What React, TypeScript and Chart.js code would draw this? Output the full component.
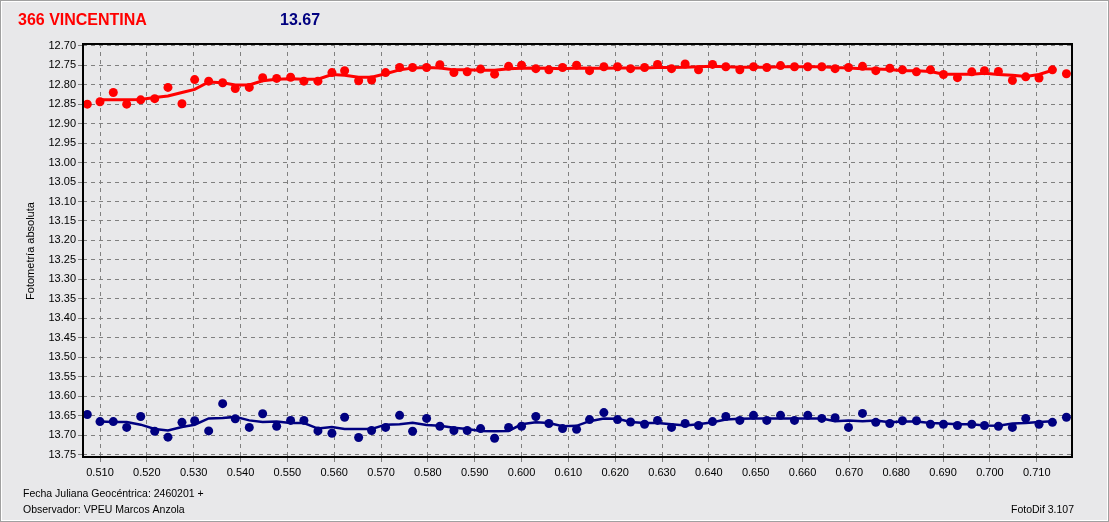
import React, { useEffect, useRef } from 'react';
import { Chart, registerables } from 'chart.js';

Chart.register(...registerables);

const titleName = '366 VINCENTINA';
const titleMag = '13.67';
const yAxisTitle = 'Fotometría absoluta';
const footerDate = 'Fecha Juliana Geocéntrica: 2460201 +';
const footerObserver = 'Observador: VPEU Marcos Anzola';
const footerSoftware = 'FotoDif 3.107';

const xTicks = [0.51, 0.52, 0.53, 0.54, 0.55, 0.56, 0.57, 0.58, 0.59, 0.6, 0.61, 0.62, 0.63, 0.64, 0.65, 0.66, 0.67, 0.68, 0.69, 0.7, 0.71];
const yTicks = [12.7, 12.75, 12.8, 12.85, 12.9, 12.95, 13.0, 13.05, 13.1, 13.15, 13.2, 13.25, 13.3, 13.35, 13.4, 13.45, 13.5, 13.55, 13.6, 13.65, 13.7, 13.75];

const jdFraction = [
  0.50729, 0.51, 0.51284, 0.5157, 0.51869, 0.52168, 0.52451, 0.5275, 0.53021, 0.5332,
  0.53619, 0.53888, 0.54187, 0.54473, 0.54772, 0.5507, 0.55354, 0.55653, 0.55952, 0.56223,
  0.56522, 0.56799, 0.57098, 0.57397, 0.57674, 0.57973, 0.58257, 0.58556, 0.5884, 0.59126,
  0.59425, 0.59724, 0.60001, 0.60306, 0.60584, 0.60876, 0.61175, 0.61452, 0.61758, 0.6205,
  0.62328, 0.62627, 0.62904, 0.63203, 0.63493, 0.63779, 0.64078, 0.64362, 0.64661, 0.64953,
  0.65237, 0.6553, 0.65828, 0.66112, 0.66411, 0.66695, 0.66981, 0.6728, 0.67564, 0.67863,
  0.68133, 0.68432, 0.68731, 0.69009, 0.69307, 0.69613, 0.69884, 0.70182, 0.70481, 0.70765,
  0.71049, 0.71335, 0.71634,
];

const redMag = [
  12.85, 12.844, 12.82, 12.85, 12.839, 12.836, 12.807, 12.849, 12.787, 12.791,
  12.795, 12.81, 12.807, 12.782, 12.784, 12.781, 12.791, 12.791, 12.769, 12.764,
  12.79, 12.788, 12.769, 12.756, 12.756, 12.756, 12.749, 12.769, 12.767, 12.76,
  12.773, 12.753, 12.75, 12.759, 12.762, 12.756, 12.75, 12.764, 12.754, 12.754,
  12.759, 12.756, 12.748, 12.759, 12.747, 12.762, 12.748, 12.754, 12.762, 12.754,
  12.756, 12.751, 12.754, 12.754, 12.754, 12.759, 12.756, 12.753, 12.764, 12.758,
  12.762, 12.767, 12.762, 12.774, 12.782, 12.767, 12.764, 12.766, 12.789, 12.78,
  12.783, 12.762, 12.772,
];

// smoothed curve, from 2nd to 72nd point
const redTrend = [
  12.839, 12.839, 12.839, 12.838, 12.833, 12.829, 12.82, 12.812, 12.793,
  12.795, 12.801, 12.801, 12.79, 12.786, 12.785, 12.786, 12.786, 12.774, 12.776,
  12.781, 12.781, 12.772, 12.762, 12.757, 12.756, 12.757, 12.762, 12.762, 12.763,
  12.763, 12.759, 12.758, 12.757, 12.758, 12.759, 12.757, 12.758, 12.758, 12.757,
  12.757, 12.757, 12.756, 12.756, 12.755, 12.754, 12.753, 12.754, 12.755, 12.755,
  12.755, 12.754, 12.754, 12.754, 12.754, 12.756, 12.757, 12.759, 12.76, 12.761,
  12.764, 12.764, 12.766, 12.773, 12.773, 12.773, 12.771, 12.774, 12.776, 12.779,
  12.774, 12.763,
];

const blueMag = [
  13.647, 13.665, 13.665, 13.68, 13.652, 13.69, 13.705, 13.667, 13.663, 13.689,
  13.619, 13.658, 13.68, 13.645, 13.677, 13.662, 13.662, 13.689, 13.695, 13.654,
  13.706, 13.688, 13.68, 13.649, 13.69, 13.657, 13.677, 13.688, 13.688, 13.683,
  13.708, 13.68, 13.677, 13.652, 13.67, 13.683, 13.685, 13.66, 13.642, 13.66,
  13.666, 13.672, 13.662, 13.68, 13.67, 13.675, 13.665, 13.652, 13.662, 13.649,
  13.662, 13.649, 13.662, 13.649, 13.657, 13.655, 13.68, 13.644, 13.667, 13.67,
  13.663, 13.663, 13.672, 13.672, 13.675, 13.672, 13.675, 13.677, 13.68, 13.657,
  13.672, 13.667, 13.654,
];

const blueTrend = [
  13.665, 13.666, 13.666, 13.673, 13.684, 13.688, 13.679, 13.673, 13.657,
  13.656, 13.653, 13.662, 13.666, 13.665, 13.669, 13.669, 13.683, 13.679, 13.684,
  13.684, 13.684, 13.673, 13.672, 13.668, 13.674, 13.676, 13.681, 13.684, 13.689,
  13.69, 13.689, 13.672, 13.667, 13.669, 13.677, 13.676, 13.664, 13.657, 13.658,
  13.666, 13.669, 13.669, 13.672, 13.675, 13.672, 13.667, 13.66, 13.658, 13.657,
  13.657, 13.657, 13.657, 13.657, 13.657, 13.664, 13.662, 13.664, 13.662, 13.667,
  13.665, 13.665, 13.669, 13.67, 13.672, 13.672, 13.675, 13.676, 13.67, 13.669,
  13.666, 13.664,
];

const RED = '#ff0000';
const BLUE = '#000080';
const BG = '#e8e8ea';
const FONT = '"Liberation Sans", Arial, sans-serif';

const toPoints = (ys: number[], offset: number) =>
  ys.map((y, i) => ({ x: jdFraction[i + offset], y }));

const decorPlugin = {
  id: 'decor',
  beforeDraw(chart: any) {
    const { ctx, width, height } = chart;
    ctx.save();
    ctx.fillStyle = BG;
    ctx.fillRect(0, 0, width, height);
    ctx.strokeStyle = '#a0a0a0';
    ctx.lineWidth = 1;
    ctx.strokeRect(0.5, 0.5, width - 1, height - 1);
    ctx.strokeStyle = '#ffffff';
    ctx.strokeRect(1.5, 1.5, width - 3, height - 3);
    ctx.restore();
  },
  afterDraw(chart: any) {
    const { ctx, chartArea } = chart;
    ctx.save();
    // plot frame
    ctx.strokeStyle = '#000000';
    ctx.lineWidth = 2;
    ctx.strokeRect(chartArea.left, chartArea.top, chartArea.right - chartArea.left, chartArea.bottom - chartArea.top);

    ctx.textBaseline = 'alphabetic';
    ctx.textAlign = 'left';
    ctx.font = `bold 16px ${FONT}`;
    ctx.fillStyle = RED;
    ctx.fillText(titleName, 18, 25);
    ctx.fillStyle = BLUE;
    ctx.fillText(titleMag, 280, 25);

    ctx.fillStyle = '#000000';
    ctx.font = `10.5px ${FONT}`;
    ctx.textBaseline = 'middle';
    ctx.fillText(footerDate, 23, 494);
    ctx.fillText(footerObserver, 23, 510);
    ctx.textAlign = 'right';
    ctx.fillText(footerSoftware, 1074, 510);

    ctx.font = `11px ${FONT}`;
    ctx.translate(31, 251);
    ctx.rotate(-Math.PI / 2);
    ctx.textAlign = 'center';
    ctx.fillText(yAxisTitle, 0, 0);
    ctx.restore();
  },
};

export default function App() {
  const ref = useRef<HTMLCanvasElement | null>(null);

  useEffect(() => {
    document.body.style.margin = '0';
    document.body.style.background = BG;
    if (!ref.current) return;
    const chart = new Chart(ref.current, {
      type: 'scatter',
      data: {
        datasets: [
          {
            data: toPoints(redTrend, 1),
            showLine: true,
            borderColor: RED,
            borderWidth: 3,
            pointRadius: 0,
            tension: 0,
          },
          {
            data: toPoints(redMag, 0),
            backgroundColor: RED,
            borderWidth: 0,
            pointRadius: 4.5,
            showLine: false,
          },
          {
            data: toPoints(blueTrend, 1),
            showLine: true,
            borderColor: BLUE,
            borderWidth: 2.5,
            pointRadius: 0,
            tension: 0,
          },
          {
            data: toPoints(blueMag, 0),
            backgroundColor: BLUE,
            borderWidth: 0,
            pointRadius: 4.5,
            showLine: false,
          },
        ] as any,
      },
      options: {
        animation: false,
        responsive: true,
        maintainAspectRatio: false,
        devicePixelRatio: 1,
        layout: { padding: { top: 44, right: 37, left: 0, bottom: 0 } },
        plugins: { legend: { display: false }, tooltip: { enabled: false }, title: { display: false } },
        elements: { point: { hoverRadius: 4.5 } },
        scales: {
          x: {
            type: 'linear',
            min: 0.50637,
            max: 0.71753,
            afterBuildTicks: (s: any) => {
              s.ticks = xTicks.map((v) => ({ value: v }));
            },
            afterFit: (s: any) => {
              s.height = 65;
            },
            ticks: {
              autoSkip: false,
              maxRotation: 0,
              padding: 4,
              color: '#000000',
              font: { family: FONT, size: 11 },
              callback: (v: any) => Number(v).toFixed(3),
            },
            grid: { color: '#808080', tickLength: 5, tickColor: '#808080', tickBorderDash: [] },
            border: { display: false, dash: [4, 4] },
          },
          y: {
            type: 'linear',
            reverse: true,
            min: 12.6956,
            max: 13.756,
            afterBuildTicks: (s: any) => {
              s.ticks = yTicks.map((v) => ({ value: v }));
            },
            afterFit: (s: any) => {
              s.width = 83;
            },
            ticks: {
              autoSkip: false,
              padding: 2,
              color: '#000000',
              font: { family: FONT, size: 11 },
              callback: (v: any) => Number(v).toFixed(2),
            },
            grid: { color: '#808080', tickLength: 5, tickColor: '#808080', tickBorderDash: [] },
            border: { display: false, dash: [4, 4] },
          },
        },
      } as any,
      plugins: [decorPlugin],
    });
    return () => chart.destroy();
  }, []);

  return (
    <div style={{ position: 'relative', width: 1109, height: 522 }}>
      <canvas ref={ref} />
    </div>
  );
}
